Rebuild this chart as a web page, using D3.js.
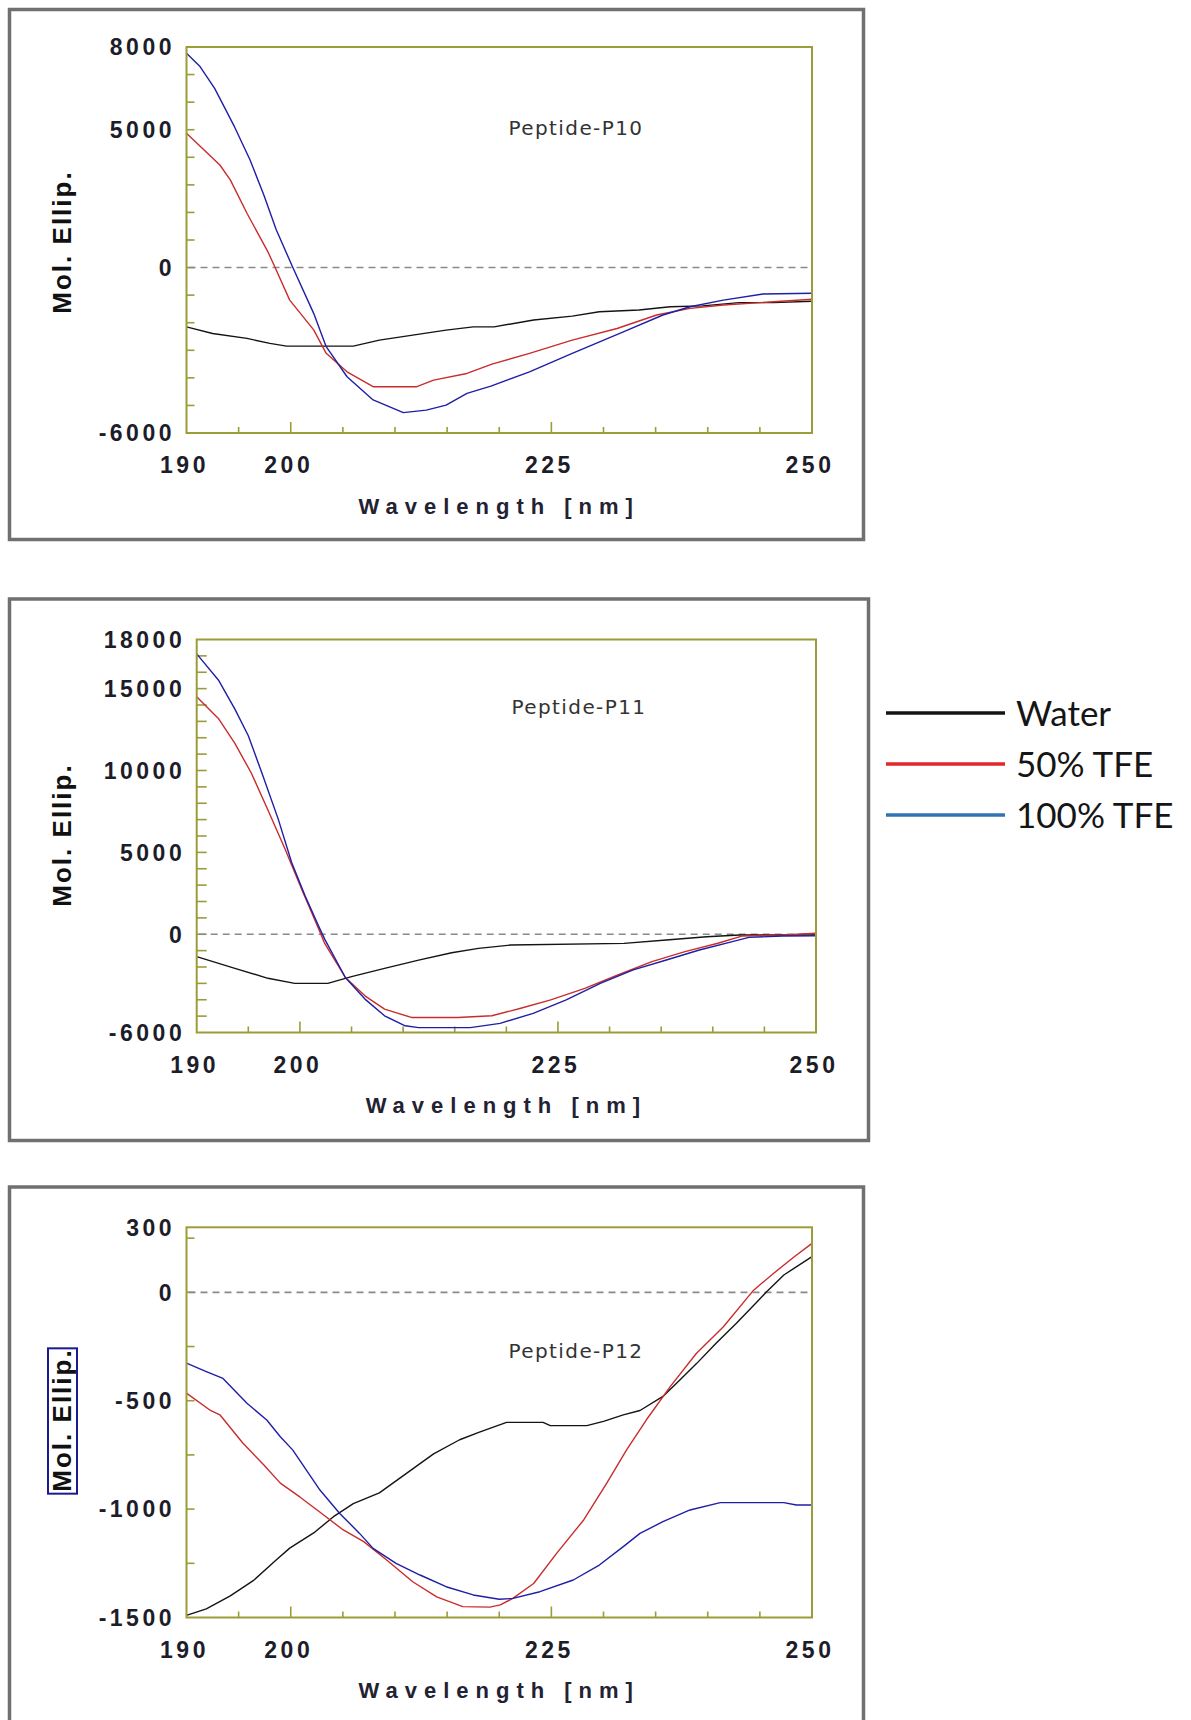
<!DOCTYPE html>
<html>
<head>
<meta charset="utf-8">
<script src="https://cdn.jsdelivr.net/npm/d3@7"></script>
<style>
  html, body { margin: 0; padding: 0; background: #ffffff; }
  svg { display: block; }
</style>
</head>
<body>
<svg id="chart" width="1191" height="1720"></svg>
<script>
// ---- Data: CD spectra, [wavelength nm, molar ellipticity] ----
const wavelengthLabels = [190, 200, 225, 250];
const seriesNames = ["Water", "50% TFE", "100% TFE"];

// Peptide-P10
const p10Ticks = [8000, 5000, 0, -6000];
const p10Water = [[190,-2150],[192.5,-2390],[195.8,-2570],[198,-2750],[199.6,-2850],[206,-2850],[208.5,-2630],[211.7,-2450],[214.9,-2270],[217.5,-2150],[219.5,-2150],[223.3,-1900],[227,-1760],[229.6,-1600],[233.4,-1540],[236.4,-1420],[239.5,-1390],[243,-1270],[246.3,-1270],[250,-1220]];
const p10Tfe50 = [[190,4870],[193.2,3720],[194.2,3180],[195.8,1970],[197.8,580],[198.5,0],[199.9,-1180],[202.2,-2260],[203.4,-3110],[205.4,-3780],[207.9,-4320],[212.1,-4320],[213.7,-4080],[216.9,-3840],[219.3,-3500],[222.9,-3110],[227,-2630],[231.3,-2210],[235.1,-1720],[238.3,-1480],[241.5,-1360],[246.3,-1240],[250,-1150]];
const p10Tfe100 = [[190,7770],[191.3,7290],[192.7,6500],[194.6,5110],[196.1,3900],[197.4,2650],[198.6,1380],[200.2,0],[202.2,-1660],[203.4,-2870],[205.4,-3960],[207.9,-4800],[210.8,-5260],[213,-5170],[214.9,-4990],[216.9,-4560],[219.2,-4300],[222.9,-3780],[227,-3110],[231.9,-2330],[235.7,-1720],[238.3,-1420],[241.5,-1180],[245.3,-960],[250,-930]];

// Peptide-P11
const p11Ticks = [18000, 15000, 10000, 5000, 0, -6000];
const p11Water = [[190,-1370],[193.7,-2080],[196.9,-2690],[199.5,-3000],[202.7,-3000],[205,-2590],[208.2,-2080],[211.5,-1580],[214.7,-1130],[217.3,-860],[220.4,-660],[231.4,-560],[235.5,-350],[239.4,-150],[242.6,-50],[250,-50]];
const p11Tfe50 = [[190,14510],[192.1,13180],[193.7,11660],[195.3,9830],[196.9,7590],[198.6,5140],[200.2,2700],[201.8,360],[202.4,-560],[204.4,-2640],[206.3,-3760],[208.2,-4570],[210.8,-5080],[215.3,-5080],[218.6,-4980],[221.4,-4520],[224.3,-4010],[227.6,-3300],[230.8,-2490],[234.1,-1670],[237.3,-1060],[240.5,-550],[242.8,-110],[246.8,-50],[250,60]];
const p11Tfe100 = [[190,17120],[192.1,15530],[193.7,13750],[195,12120],[196.3,9880],[197.9,7030],[199.2,4380],[200.5,2350],[201.8,520],[202.4,-300],[204.4,-2640],[206.3,-3960],[208.2,-4980],[210.2,-5590],[211.5,-5700],[216.5,-5700],[219.4,-5440],[222.6,-4830],[225.8,-4010],[229.1,-3000],[232.3,-2180],[235.5,-1570],[238.7,-960],[241.9,-450],[243.5,-190],[246.8,-110],[250,-100]];

// Peptide-P12
const p12Ticks = [300, 0, -500, -1000, -1500];
const p12Water = [[190,-1490],[191.9,-1460],[194.2,-1400],[196.4,-1330],[198.6,-1235],[199.9,-1180],[202.2,-1110],[204.1,-1035],[206,-975],[208.5,-925],[211.1,-835],[213.7,-745],[216.2,-680],[218.1,-645],[220.7,-600],[224.2,-600],[224.9,-615],[228.4,-615],[230,-595],[231.9,-565],[233.5,-545],[235.7,-480],[237.3,-405],[238.9,-330],[240.8,-235],[242.7,-145],[244.6,-50],[245.6,0],[247.3,80],[250,165]];
const p12Tfe50 = [[190,-465],[192.3,-545],[193.2,-565],[195.4,-695],[197.4,-795],[199,-880],[200.9,-945],[203.1,-1025],[205,-1095],[207,-1150],[209.2,-1235],[211.7,-1335],[214,-1405],[216.5,-1450],[219.1,-1452],[220.1,-1442],[221.3,-1412],[223.3,-1343],[225.5,-1204],[228.1,-1050],[230.3,-881],[232.2,-728],[234.1,-589],[236.4,-435],[238.9,-282],[241.5,-159],[244.4,10],[246.3,87],[248.3,164],[250,226]];
const p12Tfe100 = [[190,-327],[191.9,-366],[193.5,-397],[195.8,-512],[197.7,-589],[199,-666],[200.2,-728],[201.5,-820],[202.8,-912],[204.7,-1020],[206.6,-1112],[207.9,-1181],[210.1,-1250],[212.4,-1304],[214.9,-1358],[217.5,-1396],[220,-1416],[221.3,-1412],[223.9,-1381],[227.1,-1327],[229.6,-1258],[231.9,-1173],[233.5,-1112],[235.7,-1058],[238.3,-1004],[241.2,-970],[247.3,-970],[248.5,-981],[250,-981]];

// ---- Layout & style ----
const lineColors = ["#141414", "#c92c2c", "#1f1fa6"];
const legendColors = ["#141414", "#e2262b", "#2e74b5"];
const axisColor = "#9c9c38";
const tickFont = "'Liberation Sans', Arial, sans-serif";

const panels = [
  { title: "Peptide-P10", frame: [9.5, 9.5, 863.5, 539.5], plot: [186.5, 47, 812, 433],
    yDomain: [-6000, 8000], yTicks: p10Ticks, yMinorStep: 1000, yTickLen: 8,
    series: [p10Water, p10Tfe50, p10Tfe100], label: [576, 128], yTitleY: 242, boxed: false },
  { title: "Peptide-P11", frame: [9.5, 599, 868.5, 1140.5], plot: [196.7, 639.5, 816, 1032.5],
    yDomain: [-6000, 18000], yTicks: p11Ticks, yMinorStep: 1000, yTickLen: 10,
    series: [p11Water, p11Tfe50, p11Tfe100], label: [579, 707], yTitleY: 835, boxed: false },
  { title: "Peptide-P12", frame: [9.5, 1187, 863.5, 1740], plot: [186.5, 1227.3, 812, 1617.5],
    yDomain: [-1500, 300], yTicks: p12Ticks, yMinorStep: 250, yTickLen: 8,
    series: [p12Water, p12Tfe50, p12Tfe100], label: [576, 1351], yTitleY: 1420, boxed: true }
];

const svg = d3.select("#chart");

panels.forEach(p => {
  const [fx0, fy0, fx1, fy1] = p.frame;
  const [px0, py0, px1, py1] = p.plot;
  const g = svg.append("g");

  // outer panel frame
  g.append("rect")
    .attr("x", fx0).attr("y", fy0)
    .attr("width", fx1 - fx0).attr("height", fy1 - fy0)
    .attr("fill", "none").attr("stroke", "#707070").attr("stroke-width", 3.5);

  const x = d3.scaleLinear().domain([190, 250]).range([px0, px1]);
  const y = d3.scaleLinear().domain(p.yDomain).range([py1, py0]);

  // minor/major ticks on x (inside, pointing up)
  const xTickVals = d3.range(195, 250, 5);
  g.append("g").selectAll("line").data(xTickVals).join("line")
    .attr("x1", d => x(d)).attr("x2", d => x(d))
    .attr("y1", py1).attr("y2", d => py1 - (d === 200 || d === 225 ? 11 : 6))
    .attr("stroke", axisColor).attr("stroke-width", 1.6);

  // ticks on y (inside, pointing right)
  const yTickVals = d3.range(Math.ceil(p.yDomain[0] / p.yMinorStep) * p.yMinorStep, p.yDomain[1] + 1, p.yMinorStep)
    .filter(v => v > p.yDomain[0] && v < p.yDomain[1]);
  g.append("g").selectAll("line").data(yTickVals).join("line")
    .attr("x1", px0).attr("x2", px0 + p.yTickLen)
    .attr("y1", d => y(d)).attr("y2", d => y(d))
    .attr("stroke", axisColor).attr("stroke-width", 1.6);

  // zero reference line
  g.append("line")
    .attr("x1", px0 + 2).attr("x2", px1 - 2)
    .attr("y1", y(0)).attr("y2", y(0))
    .attr("stroke", "#8a8a8a").attr("stroke-width", 1.6)
    .attr("stroke-dasharray", "7,5");

  // spectra
  const line = d3.line().x(d => x(d[0])).y(d => y(d[1]));
  p.series.forEach((s, i) => {
    g.append("path").datum(s)
      .attr("d", line)
      .attr("fill", "none")
      .attr("stroke", lineColors[i])
      .attr("stroke-width", 1.4)
      .attr("stroke-linejoin", "round");
  });

  // plot box
  g.append("rect")
    .attr("x", px0).attr("y", py0)
    .attr("width", px1 - px0).attr("height", py1 - py0)
    .attr("fill", "none").attr("stroke", axisColor).attr("stroke-width", 2);

  // y tick labels
  g.append("g").selectAll("text").data(p.yTicks).join("text")
    .attr("x", px0 - 11.5).attr("y", d => y(d)).attr("dy", "0.36em")
    .attr("text-anchor", "end")
    .style("font-family", tickFont).style("font-weight", "bold")
    .style("font-size", "23px").style("letter-spacing", "3.5px")
    .attr("fill", "#1d1d2a")
    .text(d => d);

  // x tick labels
  g.append("g").selectAll("text").data(wavelengthLabels).join("text")
    .attr("x", d => x(d) - 2).attr("y", py1 + 32).attr("dy", "0.36em")
    .attr("text-anchor", "middle")
    .style("font-family", tickFont).style("font-weight", "bold")
    .style("font-size", "23px").style("letter-spacing", "3.5px")
    .attr("fill", "#1d1d2a")
    .text(d => d);

  // x axis title
  g.append("text")
    .attr("x", (px0 + px1) / 2).attr("y", py1 + 73).attr("dy", "0.36em")
    .attr("text-anchor", "middle")
    .style("font-family", tickFont).style("font-weight", "bold")
    .style("font-size", "22px").style("letter-spacing", "7px")
    .attr("fill", "#222233")
    .text("Wavelength [nm]");

  // y axis title
  const yt = g.append("g").attr("transform", `translate(71,${p.yTitleY}) rotate(-90)`);
  const ytText = yt.append("text")
    .attr("x", 0).attr("y", 0)
    .attr("text-anchor", "middle")
    .style("font-family", tickFont).style("font-weight", "bold")
    .style("font-size", "26px").style("letter-spacing", "2px")
    .attr("fill", "#111111")
    .text("Mol. Ellip.");
  if (p.boxed) {
    const bb = ytText.node().getBBox();
    yt.insert("rect", "text")
      .attr("x", bb.x - 2).attr("y", bb.y + 1)
      .attr("width", bb.width + 2).attr("height", bb.height - 1)
      .attr("fill", "none").attr("stroke", "#1b1b8f").attr("stroke-width", 2);
  }

  // panel label
  g.append("text")
    .attr("x", p.label[0]).attr("y", p.label[1]).attr("dy", "0.36em")
    .attr("text-anchor", "middle")
    .style("font-family", "'DejaVu Sans', sans-serif")
    .style("font-size", "20px").style("letter-spacing", "1.4px")
    .attr("fill", "#333333")
    .text(p.title);
});

// ---- Legend ----
const legendY = [713, 764, 815];
const legend = svg.append("g");
seriesNames.forEach((name, i) => {
  legend.append("line")
    .attr("x1", 886).attr("x2", 1005)
    .attr("y1", legendY[i]).attr("y2", legendY[i])
    .attr("stroke", legendColors[i]).attr("stroke-width", 3.5);
  legend.append("text")
    .attr("x", 1016).attr("y", legendY[i]).attr("dy", "0.36em")
    .style("font-family", "Lato, 'Open Sans', sans-serif")
    .style("font-size", "35px")
    .attr("fill", "#151515")
    .text(name);
});
</script>
</body>
</html>
